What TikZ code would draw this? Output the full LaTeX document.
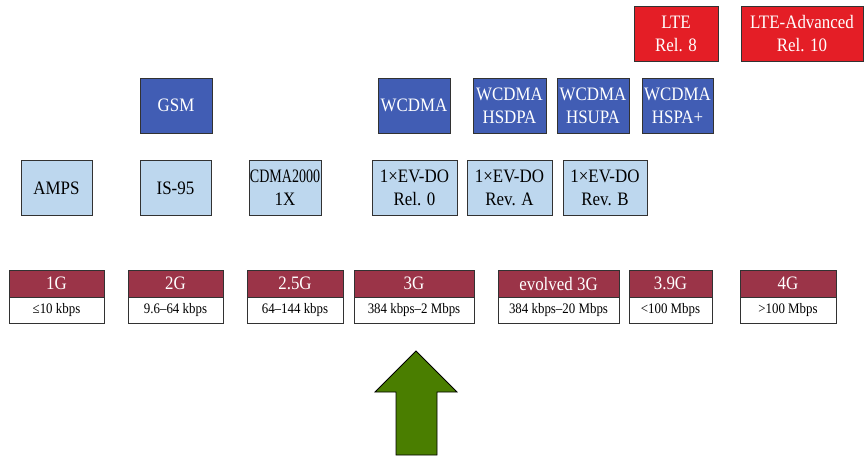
\documentclass[tikz,border=0pt]{standalone}
\usepackage{fontspec}
\setmainfont[FakeStretch=0.89]{Liberation Serif}
\definecolor{hdr}{RGB}{155,52,72}
\definecolor{dblue}{RGB}{65,93,180}
\definecolor{lblue}{RGB}{189,215,238}
\definecolor{lred}{RGB}{228,30,38}
\definecolor{agreen}{RGB}{74,126,0}
\definecolor{edge}{RGB}{50,50,50}
\tikzset{
  box/.style={draw=edge, line width=0.9pt, inner sep=0pt, align=center, font=\fontsize{19}{23}\selectfont},
  lbox/.style={box, fill=lblue, text=black},
  dbox/.style={box, fill=dblue, text=white},
  rbox/.style={box, fill=lred, text=white},
  ghead/.style={box, fill=hdr, text=white, minimum height=27pt},
  grate/.style={box, fill=white, text=black, minimum height=26pt, font=\fontsize{14.5}{16}\selectfont},
  arrowfill/.style={draw=black, line width=0.8pt, fill=agreen}
}
\begin{document}
\begin{tikzpicture}[x=1pt,y=-1pt]
\useasboundingbox (0,0) rectangle (864,456);
% red LTE row
\node[rbox, minimum width=84pt, minimum height=55pt] (lte) at (676,33.5) {LTE\\Rel. 8};
\node[rbox, minimum width=122pt, minimum height=55pt] (ltea) at (802,33.5) {LTE-Advanced\\Rel. 10};
% dark blue row
\node[dbox, minimum width=72pt, minimum height=55pt] (gsm) at (176,105.5) {GSM};
\node[dbox, minimum width=72pt, minimum height=55pt] (wcdma) at (414,105.5) {WCDMA};
\node[dbox, minimum width=73pt, minimum height=55pt] (hsdpa) at (509.5,105.5) {WCDMA\\HSDPA};
\node[dbox, minimum width=72pt, minimum height=55pt] (hsupa) at (593,105.5) {WCDMA\\HSUPA};
\node[dbox, minimum width=71pt, minimum height=55pt] (hspap) at (677.5,105.5) {WCDMA\\HSPA+};
% light blue row
\node[lbox, minimum width=71pt, minimum height=55pt] (amps) at (56.5,188) {AMPS};
\node[lbox, minimum width=71pt, minimum height=55pt] (is95) at (175.5,188) {IS-95};
\node[lbox, minimum width=72pt, minimum height=55pt] (cdma) at (285,188) {\scalebox{0.83}[1]{CDMA2000}\\1X};
\node[lbox, minimum width=85pt, minimum height=55pt] (evdo0) at (414.5,188) {1×EV-DO\\Rel. 0};
\node[lbox, minimum width=85pt, minimum height=55pt] (evdoa) at (509.5,188) {1×EV-DO\\Rev. A};
\node[lbox, minimum width=84pt, minimum height=55pt] (evdob) at (605,188) {1×EV-DO\\Rev. B};
% generation headers
\foreach \n/\cx/\w/\g/\r in {
  g1/56.5/95/1G/≤10 kbps,
  g2/175.5/95/2G/9.6–64 kbps,
  g25/295/96/2.5G/64–144 kbps,
  g3/414/120/3G/384 kbps–2 Mbps,
  ge3/558.5/121/evolved 3G/384 kbps–20 Mbps,
  g39/670.5/83/3.9G/<100 Mbps,
  g4/788/96/4G/>100 Mbps}{
  \node[ghead, minimum width=\w pt] (\n h) at (\cx,283.5) {\g};
  \node[grate, minimum width=\w pt] (\n r) at (\cx,310) {\r};
}
% green arrow
\draw[arrowfill] (416,351) -- (457,392) -- (437,392) -- (437,455) -- (396,455) -- (396,392) -- (375,392) -- cycle;
\end{tikzpicture}
\end{document}
